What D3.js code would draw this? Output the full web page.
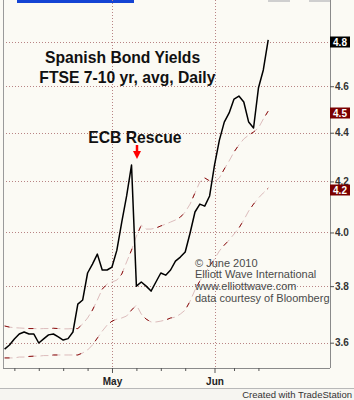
<!DOCTYPE html>
<html>
<head>
<meta charset="utf-8">
<script src="https://cdn.jsdelivr.net/npm/d3@7"></script>
<style>
  body { margin: 0; background: #fbfaf4; }
  text { font-family: "Liberation Sans", Arial, sans-serif; }
</style>
</head>
<body>
<div id="chart"></div>
<script>
// ---- data ----
// trading days, 1 Apr 2010 .. 16 Jun 2010
const dates = d3.timeDay.range(new Date(2010, 3, 1), new Date(2010, 5, 17))
  .filter(d => d.getDay() !== 0 && d.getDay() !== 6);

const yields = [3.578, 3.592, 3.613, 3.630, 3.637, 3.630, 3.630, 3.599, 3.613, 3.627,
  3.630, 3.620, 3.609, 3.614, 3.637, 3.735, 3.750, 3.848, 3.881, 3.918,
  3.859, 3.859, 3.870, 3.933, 4.040, 4.142, 4.266, 3.800, 3.815, 3.800,
  3.782, 3.815, 3.848, 3.840, 3.859, 3.892, 3.907, 3.926, 3.998, 4.079,
  4.110, 4.102, 4.142, 4.266, 4.369, 4.445, 4.484, 4.544, 4.557, 4.531,
  4.445, 4.420, 4.592, 4.672, 4.808];

const upperBand = [3.658, 3.654, 3.652, 3.651, 3.650, 3.649, 3.649, 3.648, 3.649, 3.649,
  3.650, 3.649, 3.648, 3.648, 3.649, 3.649, 3.665, 3.686, 3.714, 3.750,
  3.789, 3.808, 3.815, 3.822, 3.844, 3.889, 3.933, 3.986, 4.028, 4.013,
  4.013, 4.017, 4.025, 4.032, 4.040, 4.048, 4.059, 4.079, 4.110, 4.154,
  4.198, 4.214, 4.202, 4.198, 4.214, 4.250, 4.283, 4.320, 4.349, 4.374,
  4.390, 4.403, 4.420, 4.458, 4.492];

const lowerBand = [3.548, 3.548, 3.548, 3.551, 3.551, 3.553, 3.554, 3.554, 3.556, 3.556,
  3.558, 3.558, 3.558, 3.558, 3.558, 3.558, 3.565, 3.575, 3.592, 3.616,
  3.640, 3.661, 3.675, 3.682, 3.686, 3.693, 3.714, 3.732, 3.700, 3.682,
  3.672, 3.672, 3.675, 3.679, 3.686, 3.689, 3.700, 3.714, 3.746, 3.786,
  3.819, 3.844, 3.874, 3.900, 3.930, 3.952, 3.971, 3.994, 4.017, 4.048,
  4.083, 4.110, 4.134, 4.154, 4.173];

const yTicks = [3.6, 3.8, 4.0, 4.2, 4.4, 4.6, 4.8];
const yLabels = [3.6, 3.8, 4.0, 4.2, 4.4, 4.6]; // 4.8 sits under the last-value box
const monthLabels = [{ date: new Date(2010, 4, 3), label: "May" }, { date: new Date(2010, 5, 1), label: "Jun" }];
const titleLines = ["Spanish Bond Yields", "FTSE 7-10 yr, avg, Daily"];
const noteLines = ["© June 2010", "Elliott Wave International", "www.elliottwave.com", "data courtesy of Bloomberg"];

// ---- layout ----
const width = 354, height = 400;
const plotLeft = 3, plotRight = 330, plotBottom = 368;

const svg = d3.select("#chart").append("svg")
  .attr("width", width)
  .attr("height", height);

svg.append("rect").attr("width", width).attr("height", height).attr("fill", "#fbfaf4");
svg.append("rect").attr("y", 389).attr("width", width).attr("height", 11).attr("fill", "#f6f5f1");

// trading day index -> x
const idx = d => dates.findIndex(t => +t === +d);
const x = d3.scaleLinear().domain([0, dates.length - 1]).range([4.6, 268.2]);
const y = d3.scaleLog().domain([3.6, 4.8]).range([342.7, 41.7]);

// top strip
svg.append("rect").attr("x", 17).attr("y", 0).attr("width", 117).attr("height", 3).attr("fill", "#1444d4");
svg.append("rect").attr("x", 268).attr("y", 0).attr("width", 22).attr("height", 2).attr("fill", "#cfcfcf");
svg.append("rect").attr("x", 309).attr("y", 0).attr("width", 21).attr("height", 2).attr("fill", "#cfcfcf");

// grid
const grid = svg.append("g").attr("stroke", "#b88484").attr("stroke-dasharray", "1,2").attr("stroke-width", 1);
grid.selectAll("line.h").data(yTicks).join("line")
  .attr("x1", plotLeft).attr("x2", plotRight)
  .attr("y1", d => Math.round(y(d)) + 0.5).attr("y2", d => Math.round(y(d)) + 0.5);
grid.selectAll("line.v").data(monthLabels).join("line")
  .attr("x1", d => Math.round(x(idx(d.date))) + 0.5).attr("x2", d => Math.round(x(idx(d.date))) + 0.5)
  .attr("y1", 0).attr("y2", plotBottom);

// frame
svg.append("line").attr("x1", plotLeft + 0.5).attr("x2", plotLeft + 0.5).attr("y1", 0).attr("y2", plotBottom)
  .attr("stroke", "#9a9a9a");
svg.append("line").attr("x1", plotRight + 0.5).attr("x2", plotRight + 0.5).attr("y1", 0).attr("y2", plotBottom)
  .attr("stroke", "#8a8a8a");
svg.append("line").attr("x1", plotLeft).attr("x2", plotRight).attr("y1", plotBottom + 0.5).attr("y2", plotBottom + 0.5)
  .attr("stroke", "#8a8a8a");
svg.append("line").attr("x1", 0).attr("x2", width).attr("y1", 388.5).attr("y2", 388.5).attr("stroke", "#b8b8b8");

// x axis: weekly ticks (Mondays) and month ticks
const weekTicks = dates.map((d, i) => i)
  .filter(i => dates[i].getDay() === 1 && dates[i].getDate() !== 31);
svg.append("g")
  .attr("transform", `translate(0,${plotBottom})`)
  .call(d3.axisBottom(x).tickValues(weekTicks).tickSize(3).tickFormat(""))
  .call(g => g.select(".domain").remove())
  .call(g => g.selectAll("line").attr("stroke", "#555"));

const monthAxis = svg.append("g")
  .attr("transform", `translate(0,${plotBottom})`)
  .call(d3.axisBottom(x).tickValues(monthLabels.map(m => idx(m.date))).tickSize(5).tickPadding(5)
    .tickFormat((d, i) => monthLabels[i].label))
  .call(g => g.select(".domain").remove());
monthAxis.selectAll("line").attr("stroke", "#555");
monthAxis.selectAll("text").attr("font-size", 10).attr("font-weight", "bold").attr("fill", "#222")
  .style("font-family", "'Liberation Sans', Arial, sans-serif");

// y axis on the right
const yAxis = svg.append("g")
  .attr("transform", `translate(${plotRight},0)`)
  .call(d3.axisRight(y).tickValues(yLabels).tickSize(4).tickPadding(1).tickFormat(d3.format(".1f")))
  .call(g => g.select(".domain").remove());
yAxis.selectAll("line").attr("stroke", "#555");
yAxis.selectAll("text").attr("font-size", 10).attr("font-weight", "bold").attr("fill", "#333")
  .style("font-family", "'Liberation Sans', Arial, sans-serif");

// bands (dashed, dark red over pale pink)
const line = d3.line().x((d, i) => x(i)).y(d => y(d));
[upperBand, lowerBand].forEach(band => {
  svg.append("path").attr("d", line(band)).attr("fill", "none")
    .attr("stroke", "#dcbcbc").attr("stroke-width", 1).attr("stroke-dasharray", "8,4");
  svg.append("path").attr("d", line(band)).attr("fill", "none")
    .attr("stroke", "#8c1010").attr("stroke-width", 1).attr("stroke-dasharray", "5,19");
});

// yield line
svg.append("path").attr("d", line(yields)).attr("fill", "none")
  .attr("stroke", "#000").attr("stroke-width", 1.5).attr("stroke-linejoin", "round");

// last value boxes
const boxes = [
  { v: yields[yields.length - 1], fill: "#000" },
  { v: upperBand[upperBand.length - 1], fill: "#7a0000" },
  { v: lowerBand[lowerBand.length - 1], fill: "#7a0000" }
];
const bx = svg.selectAll("g.box").data(boxes).join("g")
  .attr("transform", d => `translate(${plotRight},${Math.round(y(d.v)) + 2})`);
bx.append("rect").attr("x", 0).attr("y", -5.5).attr("width", 20).attr("height", 11).attr("fill", d => d.fill);
bx.append("text").attr("x", 10).attr("y", 4).attr("text-anchor", "middle")
  .attr("font-size", 10).attr("font-weight", "bold").attr("fill", "#fff")
  .text(d => d3.format(".1f")(d.v));

// titles
svg.append("text").attr("x", 45).attr("y", 62.5).attr("font-size", 15.7).attr("font-weight", "bold")
  .attr("fill", "#111").text(titleLines[0]);
svg.append("text").attr("x", 39.3).attr("y", 82.5).attr("font-size", 15.7).attr("font-weight", "bold")
  .attr("fill", "#111").text(titleLines[1]);

// ECB Rescue annotation
const rescueIdx = 26;
const ax = Math.round(x(rescueIdx)) + 5;
svg.append("text").attr("x", 88.3).attr("y", 142.7).attr("font-size", 15.7).attr("font-weight", "bold")
  .attr("fill", "#111").text("ECB Rescue");
svg.append("line").attr("x1", ax).attr("x2", ax).attr("y1", 145).attr("y2", 153)
  .attr("stroke", "#ff0000").attr("stroke-width", 2.5);
svg.append("path").attr("d", `M${ax - 4},151 L${ax + 4},151 L${ax},159 Z`).attr("fill", "#ff0000");

// copyright note
svg.append("g").selectAll("text").data(noteLines).join("text")
  .attr("x", 195).attr("y", (d, i) => 266.7 + i * 11.7)
  .attr("font-size", 11).attr("fill", "#4a4a4a").text(d => d);

svg.append("text").attr("x", 352).attr("y", 398).attr("text-anchor", "end")
  .attr("font-size", 9.5).attr("fill", "#333").text("Created with TradeStation");
</script>
</body>
</html>
